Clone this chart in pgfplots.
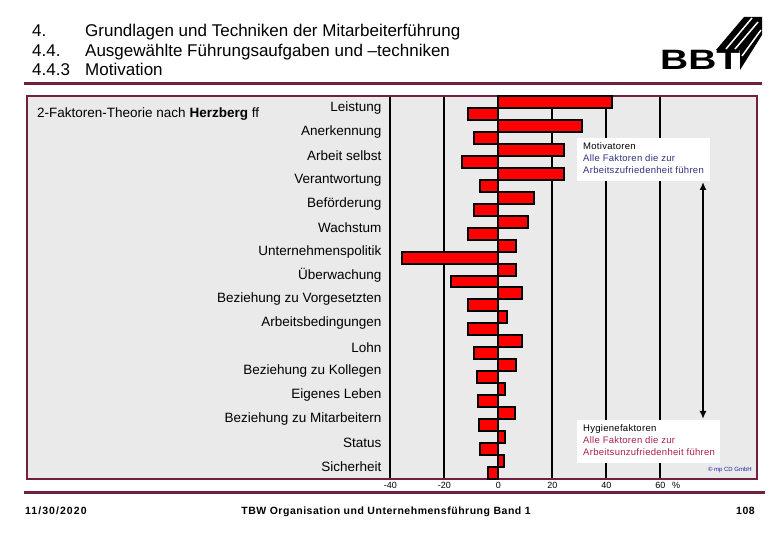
\documentclass[border=0pt]{standalone}
\usepackage{fontspec}
\setmainfont{Liberation Sans}
\usepackage{pgfplots}
\pgfplotsset{compat=1.18}
\usetikzlibrary{arrows.meta}
\definecolor{maroon}{RGB}{112,32,64}
\definecolor{bggray}{RGB}{234,234,234}
\definecolor{barred}{RGB}{255,0,0}
\definecolor{motblue}{RGB}{50,50,130}
\definecolor{hygred}{RGB}{170,30,80}
\definecolor{cpblue}{RGB}{30,30,170}
\newcommand{\hd}{\fontsize{17}{20}\selectfont}
\newcommand{\lb}{\fontsize{13.5}{16}\selectfont}
\newcommand{\an}{\fontsize{9.5}{12}\selectfont\addfontfeatures{LetterSpace=3}}
\newcommand{\ft}{\fontsize{10.5}{12}\selectfont\bfseries\addfontfeatures{LetterSpace=5}}
\begin{document}
\begin{tikzpicture}[x=1pt,y=1pt]
\path[use as bounding box, fill=white] (0,0) rectangle (780,540);
% header
\node[anchor=base west, font=\hd, inner sep=0] at (32,503.5) {4.};
\node[anchor=base west, font=\hd, inner sep=0] at (32,483.5) {4.4.};
\node[anchor=base west, font=\hd, inner sep=0] at (32,464) {4.4.3};
\node[anchor=base west, font=\hd, inner sep=0] at (85,503.5) {Grundlagen und Techniken der Mitarbeiterführung};
\node[anchor=base west, font=\hd, inner sep=0] at (85,483.5) {Ausgewählte Führungsaufgaben und –techniken};
\node[anchor=base west, font=\hd, inner sep=0] at (85,464) {Motivation};
% logo
\node[anchor=base west, inner sep=0, font=\fontsize{28}{30}\selectfont\bfseries] at (660,470) {\scalebox{1.39}[1]{BBT}};
\fill[black] (716,490) -- (744,523) -- (762,523) -- (762,505) -- (740,470) -- (740,490) -- cycle;
\draw[white, line width=1.5pt] (726,491) -- (752,522);
\draw[white, line width=1.5pt] (735,491) -- (758,518);
\draw[white, line width=1.5pt] (742,484) -- (761,510);
% rules
\draw[maroon, line width=3pt] (24,456.5) -- (762,456.5);
\draw[maroon, line width=3pt] (24,47.5) -- (765,47.5);
% footer
\node[anchor=base west, font=\ft\addfontfeatures{LetterSpace=10}, inner sep=0] at (25,25) {11/30/2020};
\node[anchor=base, font=\ft, inner sep=0] at (386,25) {TBW Organisation und Unternehmensführung Band 1};
\node[anchor=base east, font=\ft, inner sep=0] at (755,25) {108};

\begin{axis}[at={(27pt,61pt)}, anchor=south west, scale only axis,
  width=730pt, height=383pt,
  xmin=-174.6, xmax=95.8, ymin=-0.5, ymax=15.5, y dir=reverse,
  axis background/.style={fill=bggray},
  axis line style={maroon, line width=2pt},
  xtick={-40,-20,0,20,40,60}, ytick=\empty,
  xmajorgrids, grid style={black, line width=2.2pt},
  major tick length=0pt,
  xticklabel style={font=\fontsize{9}{10}\selectfont, /pgf/number format/assume math mode=true},
  clip=false]
\addplot[xbar, bar width=0.5, bar shift=0pt, fill=barred, draw=black, line width=2pt] coordinates {
 (42,-0.25) (31,0.75) (24.3,1.75) (24.3,2.75) (13.2,3.75) (10.8,4.75) (6.5,5.75) (6.5,6.75)
 (8.9,7.75) (3.2,8.75) (8.9,9.75) (6.5,10.75) (2.5,11.75) (6.2,12.75) (2.5,13.75) (2.1,14.75)};
\addplot[xbar, bar width=0.5, bar shift=0pt, fill=barred, draw=black, line width=2pt] coordinates {
 (-11.1,0.25) (-9,1.25) (-13.6,2.25) (-6.8,3.25) (-9,4.25) (-11.3,5.25) (-35.8,6.25) (-17.6,7.25)
 (-11.3,8.25) (-11.3,9.25) (-9,10.25) (-8,11.25) (-7.4,12.25) (-7.1,13.25) (-6.8,14.25) (-3.9,15.25)};
\node[anchor=east, font=\lb] at (axis cs:-42,0) {Leistung};
\node[anchor=east, font=\lb] at (axis cs:-42,1) {Anerkennung};
\node[anchor=east, font=\lb] at (axis cs:-42,2) {Arbeit selbst};
\node[anchor=east, font=\lb] at (axis cs:-42,3) {Verantwortung};
\node[anchor=east, font=\lb] at (axis cs:-42,4) {Beförderung};
\node[anchor=east, font=\lb] at (axis cs:-42,5) {Wachstum};
\node[anchor=east, font=\lb] at (axis cs:-42,6) {Unternehmenspolitik};
\node[anchor=east, font=\lb] at (axis cs:-42,7) {Überwachung};
\node[anchor=east, font=\lb] at (axis cs:-42,8) {Beziehung zu Vorgesetzten};
\node[anchor=east, font=\lb] at (axis cs:-42,9) {Arbeitsbedingungen};
\node[anchor=east, font=\lb] at (axis cs:-42,10) {Lohn};
\node[anchor=east, font=\lb] at (axis cs:-42,11) {Beziehung zu Kollegen};
\node[anchor=east, font=\lb] at (axis cs:-42,12) {Eigenes Leben};
\node[anchor=east, font=\lb] at (axis cs:-42,13) {Beziehung zu Mitarbeitern};
\node[anchor=east, font=\lb] at (axis cs:-42,14) {Status};
\node[anchor=east, font=\lb] at (axis cs:-42,15) {Sicherheit};
\end{axis}

\node[anchor=base west, font=\lb, inner sep=0] at (37,422) {2-Faktoren-Theorie nach \textbf{Herzberg} ff};
\node[anchor=base west, font=\fontsize{9}{10}\selectfont, inner sep=0] at (672,51) {\%};
% annotation boxes
\fill[white] (577,402) rectangle (710,359);
\node[anchor=base west, font=\an, inner sep=0] at (583,390) {Motivatoren};
\node[anchor=base west, font=\an, inner sep=0, text=motblue] at (583,378) {Alle Faktoren die zur};
\node[anchor=base west, font=\an, inner sep=0, text=motblue] at (583,366) {Arbeitszufriedenheit führen};
\fill[white] (577,120) rectangle (720,77);
\node[anchor=base west, font=\an, inner sep=0] at (583,108) {Hygienefaktoren};
\node[anchor=base west, font=\an, inner sep=0, text=hygred] at (583,96) {Alle Faktoren die zur};
\node[anchor=base west, font=\an, inner sep=0, text=hygred] at (583,84) {Arbeitsunzufriedenheit führen};
\draw[black, line width=2pt, {Latex[length=8pt,width=7pt]}-{Latex[length=8pt,width=7pt]}] (703,358) -- (703,121);
\node[anchor=base east, font=\fontsize{6}{7}\selectfont, text=cpblue, inner sep=0] at (752,68) {© mp CD GmbH};
\end{tikzpicture}
\end{document}
